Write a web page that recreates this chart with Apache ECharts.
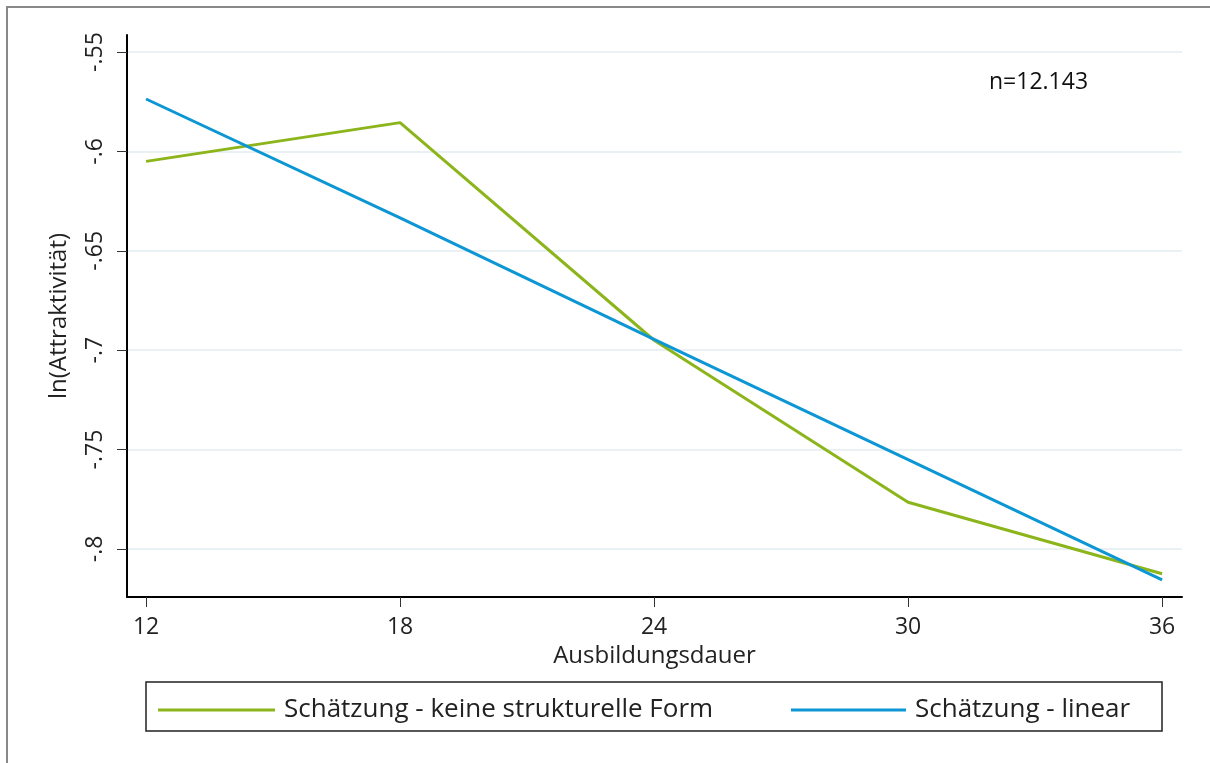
<!DOCTYPE html>
<html>
<head>
<meta charset="utf-8">
<script src="https://cdn.jsdelivr.net/npm/echarts@6/dist/echarts.min.js"></script>
<style>html,body{margin:0;padding:0;background:#fff}#c{width:1210px;height:763px}</style>
</head>
<body>
<div id="c"></div>
<script>
const xTicks = [12, 18, 24, 30, 36];
const yTicks = [-0.8, -0.75, -0.7, -0.65, -0.6, -0.55];
const seriesNames = ['Schätzung - keine strukturelle Form', 'Schätzung - linear'];
const greenValues = [-0.605, -0.5855, -0.695, -0.7765, -0.8125];
const blueValues = [-0.5736, -0.6334, -0.6946, -0.7551, -0.8156];
const noteText = 'n=12.143';

const FONT = '"Open Sans", "Noto Sans", sans-serif';
const TXT = '#222222';
const chart = echarts.init(document.getElementById('c'));
const fmtY = v => {
  const s = String(Math.round(v * 1000) / 1000);
  return s.replace(/^(-?)0\./, '$1.');
};
chart.setOption({
  animation: false,
  backgroundColor: '#ffffff',
  grid: { left: 127, right: 28, top: 35, bottom: 166, containLabel: false },
  xAxis: {
    type: 'value', min: 11.55, max: 36.47,
    name: 'Ausbildungsdauer', nameLocation: 'middle', nameGap: 45,
    nameTextStyle: { fontFamily: FONT, fontSize: 24, color: TXT },
    axisLine: { show: true, onZero: false, lineStyle: { color: '#000', width: 2 } },
    axisTick: { show: true, length: 10, customValues: xTicks, lineStyle: { color: '#333', width: 1 } },
    axisLabel: { customValues: xTicks, margin: 19, fontFamily: FONT, fontSize: 23, color: TXT },
    splitLine: { show: false }
  },
  yAxis: {
    type: 'value', min: -0.8242, max: -0.5414,
    name: 'ln(Attraktivität)', nameLocation: 'middle', nameGap: 56, nameRotate: 90,
    nameTextStyle: { fontFamily: FONT, fontSize: 24, color: TXT },
    axisLine: { show: true, onZero: false, lineStyle: { color: '#000', width: 2 } },
    axisTick: { show: true, length: 10, customValues: yTicks, lineStyle: { color: '#333', width: 1 } },
    axisLabel: { customValues: yTicks, rotate: 90, margin: 20, formatter: fmtY,
      fontFamily: FONT, fontSize: 23, color: TXT },
    splitLine: { show: true, lineStyle: { color: '#eaf1f4', width: 2 } }
  },
  legend: [
    { data: [seriesNames[0]], left: 153, top: 692, itemWidth: 117, itemHeight: 14, itemGap: 16,
      icon: 'path://M0,5.5L117,5.5L117,8.5L0,8.5Z',
      textStyle: { fontFamily: FONT, fontSize: 26, color: TXT, padding: [0, 0, 0, 4] } },
    { data: [seriesNames[1]], left: 786, top: 692, itemWidth: 115, itemHeight: 14, itemGap: 16,
      icon: 'path://M0,5.5L117,5.5L117,8.5L0,8.5Z',
      textStyle: { fontFamily: FONT, fontSize: 26, color: TXT, padding: [0, 0, 0, 4] } }
  ],
  graphic: [
    { type: 'rect', shape: { x: 7, y: 7, width: 1220, height: 800 }, silent: true,
      style: { fill: 'none', stroke: '#888888', lineWidth: 2 } },
    { type: 'rect', shape: { x: 146, y: 682, width: 1016, height: 49 }, silent: true,
      style: { fill: 'none', stroke: '#222222', lineWidth: 1.5 } },
    { type: 'text', left: 989, top: 71, silent: true,
      style: { text: noteText, fontFamily: FONT, fontSize: 23, fill: '#111' } }
  ],
  series: [
    { name: seriesNames[0], type: 'line', data: xTicks.map((x, i) => [x, greenValues[i]]),
      showSymbol: false, symbol: 'none', lineStyle: { color: '#8cb51b', width: 3 }, itemStyle: { color: '#8cb51b' } },
    { name: seriesNames[1], type: 'line', data: xTicks.map((x, i) => [x, blueValues[i]]),
      showSymbol: false, symbol: 'none', lineStyle: { color: '#0d96d4', width: 3 }, itemStyle: { color: '#0d96d4' } }
  ]
});
</script>
</body>
</html>
